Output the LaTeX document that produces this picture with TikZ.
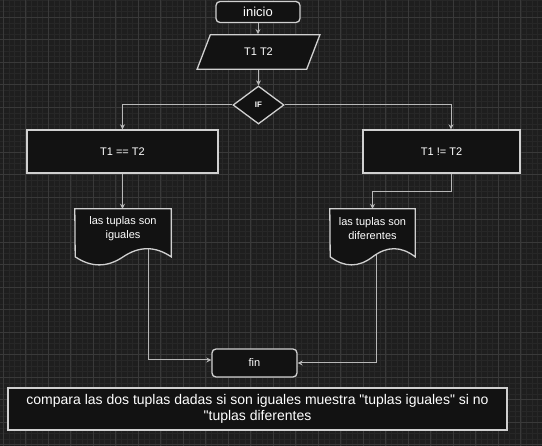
\documentclass[tikz,border=0pt]{standalone}
\usepackage{fontspec}
\setmainfont{Liberation Sans}[Ligatures=TeXOff]
\usetikzlibrary{arrows.meta, positioning, shapes.geometric, calc, backgrounds}
\definecolor{cbg}{HTML}{1E1E1E}
\definecolor{cfill}{HTML}{121212}
\definecolor{cline}{HTML}{D0D0D0}
\definecolor{cedge}{HTML}{B8B8B8}
\definecolor{cgridmin}{HTML}{272727}
\definecolor{cgridmaj}{HTML}{393939}
\tikzset{
  every picture/.style={x=1pt, y=-1pt, font=\fontsize{11}{14}\selectfont},
  box/.style={draw=cline, fill=cfill, text=white, line width=1.3pt, align=center, inner sep=2pt},
  term/.style={box, rounded corners=4pt},
  datain/.style={box, trapezium, trapezium left angle=69, trapezium right angle=111},
  decision/.style={box, diamond, inner sep=0pt},
  docnode/.style={text=white, align=center, inner sep=0pt},
  docline/.style={draw=cline, fill=cfill, line width=1.3pt},
  arrow/.style={-{Stealth[length=5pt, width=5pt]}, draw=cedge, line width=1pt},
  gridmin/.style={draw=cgridmin, line width=0.6pt},
  gridmaj/.style={draw=cgridmaj, line width=0.8pt},
}

\begin{document}
\begin{tikzpicture}
  \useasboundingbox (0,0) rectangle (542,446);
  \node[term, minimum width=84pt, minimum height=21pt, font=\fontsize{13}{15}\selectfont] (inicio) at (258,12) {inicio};
  \node[datain, minimum width=123pt, minimum height=34pt] (datos) at (258.5,52) {T1 T2};
  \node[decision, minimum width=51pt, minimum height=38pt, font=\fontsize{8}{9}\selectfont\bfseries] (cond) at (258.5,105) {IF};
  \node[box, minimum width=191pt, minimum height=43pt] (igual) at (122.5,151.5) {T1 == T2};
  \node[box, minimum width=157pt, minimum height=43pt] (difer) at (441.5,151.5) {T1 != T2};
  \node[docnode, minimum width=96pt, minimum height=40pt] (docigual) at (123,229) {las tuplas son\\iguales};
  \node[docnode, minimum width=85pt, minimum height=40pt] (docdifer) at (372.5,229) {las tuplas son\\diferentes};
  \node[term, minimum width=85pt, minimum height=28pt] (fin) at (254.5,363) {fin};
  \node[box, minimum width=499pt, minimum height=42pt, font=\fontsize{14}{16}\selectfont] (nota) at (257.5,409)
    {compara las dos tuplas dadas si son iguales muestra "tuplas iguales" si no\\"tuplas diferentes};

  \begin{scope}[on background layer]
    \fill[cbg] (0,0) rectangle (542,446);
    \clip (0,0) rectangle (542,446);
    % grid, 4 subdivisions
    \foreach \k in {-4,...,96} \draw[gridmin] ({3.3+5.625*\k},0) -- ({3.3+5.625*\k},446);
    \foreach \k in {-4,...,76} \draw[gridmin] (0,{17.3+5.625*\k}) -- (542,{17.3+5.625*\k});
    \foreach \k in {-1,...,24} \draw[gridmaj] ({3.3+22.5*\k},0) -- ({3.3+22.5*\k},446);
    \foreach \k in {-1,...,19} \draw[gridmaj] (0,{17.3+22.5*\k}) -- (542,{17.3+22.5*\k});

    \draw[arrow] (inicio.south) -- (inicio.south |- datos.north);
    \draw[arrow] (datos.south) -- (cond.north);
    \draw[arrow] (cond.west) -| (igual.north);
    \draw[arrow] (cond.east) -| ([xshift=9.5pt]difer.north);
    \draw[arrow] (igual.south) -- (igual.south |- docigual.north);
    \draw[arrow] ([xshift=9.5pt]difer.south) -- ++(0,18) -| (docdifer.north);
    \draw[arrow] ([xshift=25pt]docigual.center) |- ([yshift=3pt]fin.west);
    \draw[arrow] ([xshift=3.5pt]docdifer.center) |- (fin.east);

    % document shapes with wavy bottom
    \foreach \d/\w in {docigual/96, docdifer/85}
      \draw[docline] (\d.north west) -- (\d.north east) -- ++(0,48)
        .. controls +(-\w/6,-10.8) and +(\w/6,-10.8) .. ++(-\w/2,0)
        .. controls +(-\w/6,10.8) and +(\w/6,10.8) .. ++(-\w/2,0) -- cycle;
  \end{scope}
\end{tikzpicture}
\end{document}
